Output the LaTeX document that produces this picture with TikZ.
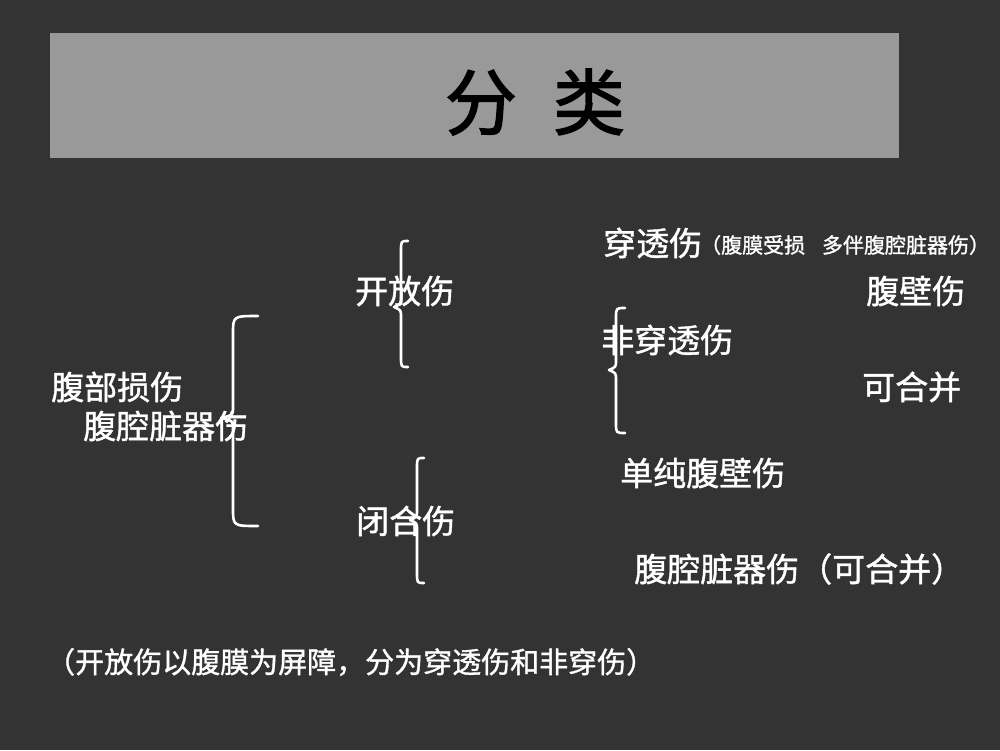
\documentclass[tikz,border=0pt]{standalone}
\usepackage{fontspec}
\setmainfont{Noto Sans CJK SC}
\newfontfamily\cjkmid[FakeBold=1.2]{Noto Sans CJK SC}
\newfontfamily\cjktitle[FakeBold=2]{Noto Sans CJK SC}
\definecolor{bgdark}{HTML}{333333}
\definecolor{titlegray}{HTML}{999999}
\newcommand\bracedraw[7]{%
  % #1 x, #2 top, #3 bottom, #4 middle, #5 arm width, #6 corner radius, #7 tip depth
  \draw[bracestyle] ({#1+#5},#2) .. controls (#1,#2) .. (#1,{#2+#6})
    -- (#1,{#4-10}) .. controls (#1,{#4-3}) .. ({#1-#7},#4)
    .. controls (#1,{#4+3}) .. (#1,{#4+10})
    -- (#1,{#3-#6}) .. controls (#1,#3) .. ({#1+#5},#3);}
\begin{document}
\begin{tikzpicture}[x=1pt,y=-1pt,
  bracestyle/.style={draw=white,line width=2.6pt,line cap=round,line join=round},
  lbl/.style={text=white,inner sep=0pt,anchor=west,font=\cjkmid\fontsize{33}{39}\selectfont},
  smalllbl/.style={text=white,inner sep=0pt,anchor=west,font=\cjkmid\fontsize{21}{25}\selectfont},
  notelbl/.style={text=white,inner sep=0pt,anchor=west,font=\cjkmid\fontsize{29}{34}\selectfont}]
\useasboundingbox (0,0) rectangle (1000,750);
\fill[bgdark] (0,0) rectangle (1000,750);
\fill[titlegray] (50,33) rectangle (899,158);
\node[inner sep=0pt,text=black,font=\cjktitle\fontsize{72}{80}\selectfont] (title) at (535,102) {分\hspace{0.5em}类};
% braces
\bracedraw{233}{316}{526}{418}{25}{18}{12}
\bracedraw{401}{241}{367}{307}{7}{10}{7}
\bracedraw{616}{308}{433}{370}{9}{10}{7}
\bracedraw{417}{458}{583}{520}{7}{10}{7}
% labels
\node[lbl] (fbss) at (51,387) {腹部损伤};
\node[lbl] (fqzq) at (83,426) {腹腔脏器伤};
\node[lbl] (kfs) at (355,291) {开放伤};
\node[lbl] (bhs) at (356,521) {闭合伤};
\node[lbl] (cts) at (603,243) {穿透伤};
\node[smalllbl] (ctsnote) at (700,245) {（腹膜受损\hspace{0.8em}多伴腹腔脏器伤）};
\node[lbl] (fbs) at (866,291) {腹壁伤};
\node[lbl] (fcts) at (601,340) {非穿透伤};
\node[lbl] (khb) at (862,387) {可合并};
\node[lbl] (dcfbs) at (620,473) {单纯腹壁伤};
\node[lbl] (fqzqk) at (634,569) {腹腔脏器伤（可合并）};
\node[notelbl] (note) at (46,662) {（开放伤以腹膜为屏障，分为穿透伤和非穿伤）};
\end{tikzpicture}
\end{document}
